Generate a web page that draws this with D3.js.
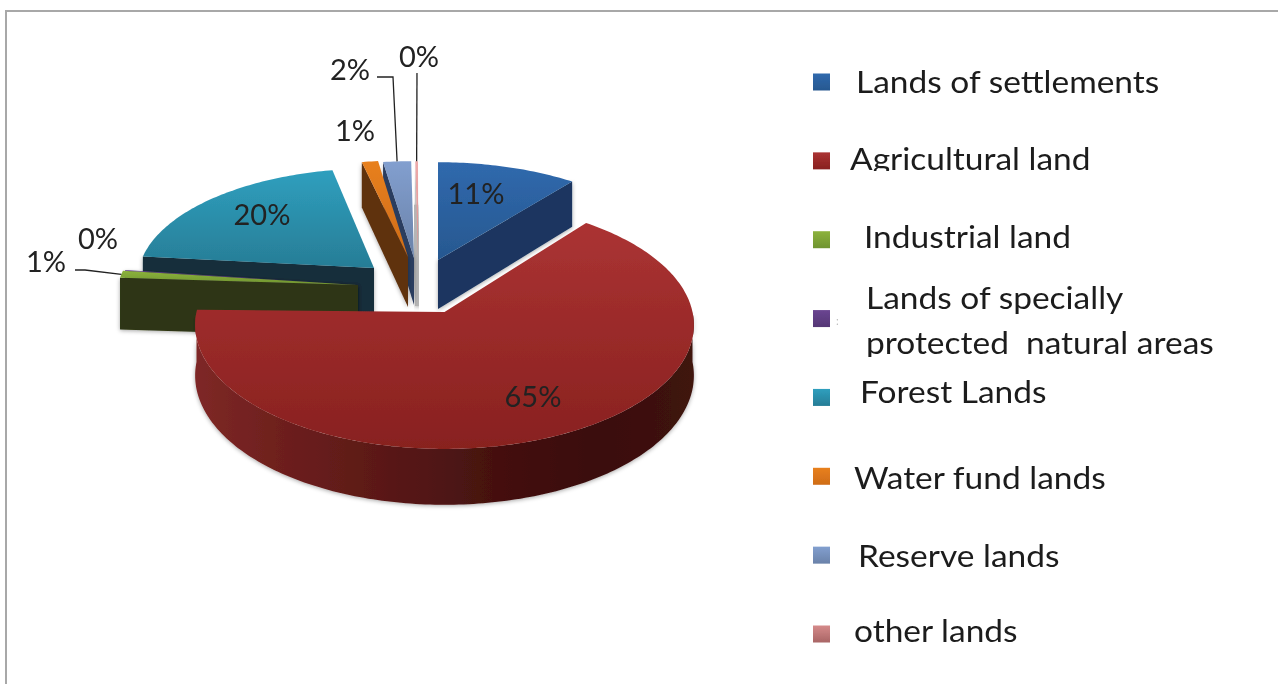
<!DOCTYPE html>
<html>
<head>
<meta charset="utf-8">
<script src="https://cdn.jsdelivr.net/npm/d3@7"></script>
<style>
  html, body { margin: 0; padding: 0; background: #fff; }
  svg { display: block; font-family: Lato, "Open Sans", sans-serif; }
</style>
</head>
<body>
<div id="chart"></div>
<script>
const categories = ['Lands of settlements', 'Agricultural land', 'Industrial land',
  'Lands of specially protected natural areas', 'Forest Lands', 'Water fund lands',
  'Reserve lands', 'other lands']
const values = [10.6, 64.7, 1.0, 0.1, 20.2, 1.2, 2.0, 0.2]
const legendLines = [['Lands of settlements'], ['Agricultural land'], ['Industrial land'],
  ['Lands of specially', 'protected  natural areas'], ['Forest Lands'], ['Water fund lands'],
  ['Reserve lands'], ['other lands']]

// top colours (back to front), wall colours (left to right)
const topColors = [['#3069ad', '#275890'], ['#ab3333', '#88211f'], ['#8cb23c', '#6f9430'],
  ['#6a4591', '#553775'], ['#2f9fbe', '#277d96'], ['#e8801f', '#cf6c17'],
  ['#829fcf', '#6a82a9'], ['#eeaaaa', '#d98e8e']]
const wallColors = [['#1a3660', '#234670'], ['#7e2826', '#6b1e1c', '#581816', '#451110', '#3a0e0c', '#3f1310'],
  ['#2d3612', '#2f3813'], ['#2f1f45', '#2f1f45'], ['#122d3b', '#122f3e'], ['#5e300d', '#5a2c0b'],
  ['#2c3c5e', '#2c3c5e'], ['#b5b5b5', '#b5b5b5']]
const otherMarkerColors = ['#d58a8a', '#a96565']

// every slice is pulled out on its own, so each one has its own frame
const frames = [
  { cx: 438, cy: 260, r: 235, ry: 108, depth: 49, turn: 0 },
  { cx: 444.5, cy: 312, r: 248, ry: 122.6, depth: 50, turn: 0 },
  { cx: 358, cy: 285, r: 240, ry: 115, depth: 52, turn: 2.5 },
  { cx: 358, cy: 285, r: 238, ry: 115, depth: 52, turn: 2.5 },
  { cx: 374, cy: 268, r: 235, ry: 110, depth: 46, turn: 1 },
  { cx: 408, cy: 257, r: 240, ry: 107, depth: 50, turn: 0 },
  { cx: 414, cy: 258, r: 248, ry: 107, depth: 47, turn: 0 },
  { cx: 418, cy: 258, r: 240, ry: 107, depth: 48, turn: 0 }
]
const drawOrder = [4, 7, 6, 5, 0, 3, 2, 1]
const perspective = 9.55
const greyBandSlice = 7

const labelPos = [[476, 204], [533, 407], [46, 272], [98, 249], [262, 225], [355, 141], [350, 80], [419, 67]]
const leaders = [
  { slice: 2, from: [[75, 270], [85, 270]] },
  { slice: 6, from: [[377, 77], [393, 77]] },
  { slice: 7, from: [[417, 73]] }
]

const legendText = [[856, 93], [850, 170], [864, 248], [866, 309], [860, 403], [854, 489], [858, 567], [854, 642]]
const legendLineGap = 45
const legendClip = { 1: 171, 3: 357 }
const legendStretch = 1.08

const width = 1278
const height = 684
const svg = d3.select('#chart').append('svg').attr('width', width).attr('height', height)
const defs = svg.append('defs')

const soft = defs.append('filter').attr('id', 'soft')
  .attr('x', 0).attr('y', 0).attr('width', 1).attr('height', 1)
soft.append('feGaussianBlur').attr('stdDeviation', 0.45)

const shade = defs.append('filter').attr('id', 'shade')
  .attr('x', '-20%').attr('y', '-20%').attr('width', '140%').attr('height', '140%')
shade.append('feDropShadow').attr('dx', 0).attr('dy', 1).attr('stdDeviation', 2)
  .attr('flood-color', '#000').attr('flood-opacity', 0.35)

function addGradient(id, stops, vertical) {
  const g = defs.append('linearGradient').attr('id', id)
    .attr('x1', 0).attr('y1', 0).attr('x2', vertical ? 0 : 1).attr('y2', vertical ? 1 : 0)
  stops.forEach((c, i) => {
    g.append('stop').attr('offset', i / (stops.length - 1)).attr('stop-color', c)
  })
}
categories.forEach((c, i) => {
  addGradient(`top-${i}`, topColors[i], true)
  addGradient(`wall-${i}`, wallColors[i], false)
})
addGradient('other-marker', otherMarkerColors, true)

const root = svg.append('g').attr('filter', 'url(#soft)')
root.append('rect').attr('width', width).attr('height', height).attr('fill', '#fff')

root.append('path')
  .attr('d', `M6,${height}V11H${width}`)
  .attr('fill', 'none').attr('stroke', '#a8a8a8').attr('stroke-width', 2)

const total = d3.sum(values)
const percent = d3.format('.0%')
const arcs = d3.pie().sort(null).startAngle(0).endAngle(2 * Math.PI)(values)

function project(f, angle, frac) {
  const a = angle + f.turn * Math.PI / 180
  const p = perspective / (perspective + Math.cos(a) * frac)
  return [f.cx + f.r * Math.sin(a) * frac * p, f.cy - f.ry * Math.cos(a) * frac * p]
}

function drop(f, pt, angle, frac) {
  const a = angle + f.turn * Math.PI / 180
  const p = perspective / (perspective + Math.cos(a) * frac)
  return [pt[0], pt[1] + f.depth * p]
}

function sweep(a0, a1) {
  const n = Math.max(2, Math.ceil((a1 - a0) * 180 / Math.PI))
  return d3.range(n + 1).map(k => a0 + (a1 - a0) * k / n)
}

const line = d3.line()

// a cut face shows only when the slice's top lies above its edge
function edgeFaces(f, d) {
  const apex = project(f, 0, 0)
  const mid = project(f, (d.startAngle + d.endAngle) / 2, 0.9)
  return [d.startAngle, d.endAngle].filter(a => {
    const q = project(f, a, 1)
    if (Math.abs(q[0] - apex[0]) < 0.5) return false
    const yAt = apex[1] + (q[1] - apex[1]) * (mid[0] - apex[0]) / (q[0] - apex[0])
    return mid[1] < yAt
  }).map(a => {
    const q = project(f, a, 1)
    return [apex, q, drop(f, q, a, 1), drop(f, apex, 0, 0)]
  })
}

const pie = root.append('g').classed('pie', true)
drawOrder.forEach(i => {
  const d = arcs[i]
  const f = frames[i]
  const g = pie.append('g').classed('slice', true)
  const sides = g.append('g').attr('filter', 'url(#shade)')

  edgeFaces(f, d).forEach(face => {
    sides.append('path').attr('d', line(face) + 'Z').attr('fill', wallColors[i][0])
  })

  // the sliver is too thin for its wall, in the source it reads as a grey band
  if (i === greyBandSlice) {
    const q = project(f, d.startAngle, 1)
    sides.append('path')
      .attr('d', line([drop(f, q, d.startAngle, 1), drop(f, project(f, 0, 0), 0, 0)]))
      .attr('fill', 'none').attr('stroke', wallColors[i][0]).attr('stroke-width', 6)
  }

  const a0 = Math.max(d.startAngle, Math.PI / 2)
  const a1 = Math.min(d.endAngle, Math.PI * 1.5)
  if (a1 > a0) {
    const rim = sweep(a0, a1)
    const outline = rim.map(a => project(f, a, 1))
      .concat(rim.slice().reverse().map(a => drop(f, project(f, a, 1), a, 1)))
    sides.append('path').attr('d', line(outline) + 'Z').attr('fill', `url(#wall-${i})`)
  }

  const top = [project(f, 0, 0)].concat(sweep(d.startAngle, d.endAngle).map(a => project(f, a, 1)))
  g.append('path').attr('d', line(top) + 'Z').attr('fill', `url(#top-${i})`)
})

const leaderG = root.append('g').classed('leaders', true)
leaders.forEach(l => {
  const d = arcs[l.slice]
  const end = project(frames[l.slice], (d.startAngle + d.endAngle) / 2, 1)
  leaderG.append('path')
    .attr('d', line(l.from.concat([end])))
    .attr('fill', 'none').attr('stroke', '#222').attr('stroke-width', 1.3)
})

root.append('g').classed('labels', true).selectAll('text').data(arcs).enter()
  .append('text')
  .text(d => percent(d.value / total))
  .attr('x', (d, i) => labelPos[i][0])
  .attr('y', (d, i) => labelPos[i][1])
  .attr('text-anchor', 'middle')
  .style('font-size', '29px')
  .style('fill', '#222')

const rowY = d3.scalePoint().domain(categories).range([82, 634])
const legend = root.append('g').classed('legend', true)
const markerSize = 17

legend.selectAll('rect').data(categories).enter()
  .append('rect')
  .attr('x', 813)
  .attr('y', d => rowY(d) - markerSize / 2)
  .attr('width', markerSize)
  .attr('height', markerSize)
  .attr('fill', (d, i) => i === 7 ? 'url(#other-marker)' : `url(#top-${i})`)

Object.keys(legendClip).forEach(k => {
  defs.append('clipPath').attr('id', `row-${k}`).append('rect')
    .attr('x', 800).attr('y', 0).attr('width', width - 800).attr('height', legendClip[k])
})

categories.forEach((c, i) => {
  const row = legend.append('g').attr('clip-path', legendClip[i] ? `url(#row-${i})` : null)
  legendLines[i].forEach((t, k) => {
    const label = row.append('text')
      .text(t)
      .attr('x', legendText[i][0])
      .attr('y', legendText[i][1] + k * legendLineGap)
      .style('font-size', '31px')
      .style('white-space', 'pre')
      .style('fill', '#1c1c1c')
    // the source face runs wider than Lato, stretch to the same line length
    label.attr('textLength', label.node().getComputedTextLength() * legendStretch)
      .attr('lengthAdjust', 'spacingAndGlyphs')
  })
})

legend.append('text').text(':').attr('x', 836).attr('y', 325)
  .style('font-size', '11px').style('fill', '#bbb')
</script>
</body>
</html>
